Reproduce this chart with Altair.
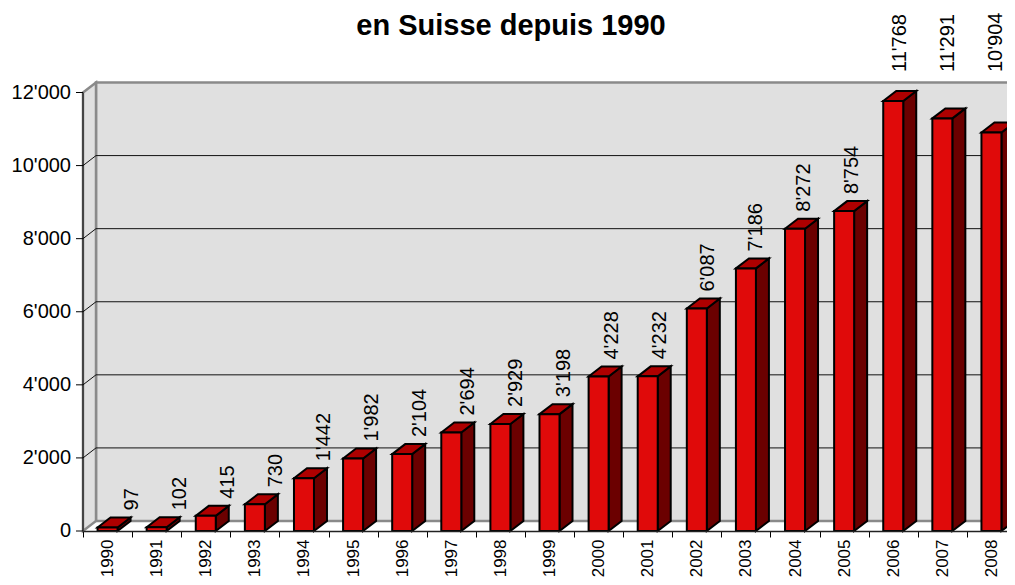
import altair as alt
import pandas as pd

# ---------------- data ----------------
years = ["1990", "1991", "1992", "1993", "1994", "1995", "1996", "1997", "1998", "1999",
         "2000", "2001", "2002", "2003", "2004", "2005", "2006", "2007", "2008"]
values = [97, 102, 415, 730, 1442, 1982, 2104, 2694, 2929, 3198,
          4228, 4232, 6087, 7186, 8272, 8754, 11768, 11291, 10904]
y_ticks = [0, 2000, 4000, 6000, 8000, 10000, 12000]
grid_vals = [2000, 4000, 6000, 8000, 10000]
title_text = "en Suisse depuis 1990"

# ---------------- geometry / style ----------------
FONT = "Liberation Sans"
N = len(years)
PLOT_W = 933.0            # full category span in px
VIS_W = 924               # visible plot width
PLOT_H = 438.5
Y_MAX = 12000
BW = PLOT_W / N
PXY = PLOT_H / Y_MAX
DX = 13 / BW              # 3D depth, x (category units)
DY = 10 / PXY             # 3D depth, y (value units)
HALF = 10 / BW            # half width of bar front

FRONT = "#E00A0A"
TOP = "#AE0000"
SIDE = "#6B0000"
WALL = "#E0E0E0"
EDGE = "#8A8A8A"
APOS = "replace(format(datum.{f}, ','), ',', \"'\")"

xs = alt.Scale(domain=[0, N], range=[0, PLOT_W], nice=False, zero=False)
ys = alt.Scale(domain=[0, Y_MAX], nice=False)

base = pd.DataFrame({"year": years, "v": values, "i": list(range(N))})
base["c"] = base["i"] + 0.5

# faces
front_df = pd.DataFrame({"x1": base["c"] - HALF, "x2": base["c"] + HALF,
                         "y1": 0, "y2": base["v"]})
side_rows, top_rows = [], []
for _, r in base.iterrows():
    c, v, k = r["c"], r["v"], r["year"]
    side_rows += [dict(k=k, x=c + HALF, top=v, bot=0),
                  dict(k=k, x=c + HALF + DX, top=v + DY, bot=DY)]
    top_rows += [dict(k=k, x=c - HALF, top=v, bot=v),
                 dict(k=k, x=c - HALF + DX, top=v + DY, bot=v),
                 dict(k=k, x=c + HALF, top=v + DY, bot=v),
                 dict(k=k, x=c + HALF + DX, top=v + DY, bot=v + DY)]
side_df = pd.DataFrame(side_rows)
top_df = pd.DataFrame(top_rows)

wall_df = pd.DataFrame({"x1": [DX], "x2": [N + DX], "y1": [DY], "y2": [Y_MAX + DY]})
left_df = pd.DataFrame({"x": [0, DX], "top": [Y_MAX, Y_MAX + DY], "bot": [0, DY]})
grid_df = pd.DataFrame({"g": grid_vals})
grid_df["gb"] = grid_df["g"] + DY
grid_df["x0"] = 0.0
grid_df["xd"] = DX
grid_df["xe"] = N + DX
tick_df = pd.DataFrame({"t": y_ticks})
dom_df = pd.DataFrame({"lo": [y_ticks[0]], "hi": [y_ticks[-1]]})

# band layer: carries the category axis
band = alt.Chart(base).mark_bar(opacity=0).encode(
    x=alt.X("year:N", scale=alt.Scale(domain=years, range=[0, PLOT_W], paddingInner=0, paddingOuter=0),
            axis=alt.Axis(orient="bottom", labelAngle=270, labelAlign="right", labelBaseline="middle",
                          labelFontSize=17, labelFont=FONT, labelColor="black", tickBand="extent",
                          tickSize=6, tickColor="black", domainColor="#222222", domainWidth=1.5,
                          labelPadding=2, title=None, zindex=1, grid=False)),
    y=alt.Y("v:Q", scale=ys, axis=None),
)

back_wall = alt.Chart(wall_df).mark_rect(fill=WALL, stroke=EDGE, strokeWidth=2.5).encode(
    x=alt.X("x1:Q", scale=xs, axis=None), x2="x2:Q",
    y=alt.Y("y1:Q", scale=ys, axis=None), y2="y2:Q")

left_wall = alt.Chart(left_df).mark_area(fill=WALL, stroke=EDGE, strokeWidth=2.5, orient="vertical").encode(
    x=alt.X("x:Q", scale=xs, axis=None),
    y=alt.Y("top:Q", scale=ys, axis=None), y2="bot:Q")

grid_back = alt.Chart(grid_df).mark_rule(color="#111111", strokeWidth=1).encode(
    x=alt.X("xd:Q", scale=xs, axis=None), x2="xe:Q",
    y=alt.Y("gb:Q", scale=ys, axis=None))

grid_left = alt.Chart(grid_df).mark_rule(color="#111111", strokeWidth=1).encode(
    x=alt.X("x0:Q", scale=xs, axis=None), x2="xd:Q",
    y=alt.Y("g:Q", scale=ys, axis=None), y2="gb:Q")

# value axis (drawn from the tick list through the y scale)
y_domain = alt.Chart(dom_df).mark_rule(color="black", strokeWidth=1).encode(
    x=alt.value(0), y=alt.Y("lo:Q", scale=ys, axis=None), y2="hi:Q")
y_tickmarks = alt.Chart(tick_df).mark_rule(color="black", strokeWidth=1).encode(
    x=alt.value(-7), x2=alt.value(0), y=alt.Y("t:Q", scale=ys, axis=None))
y_labels = alt.Chart(tick_df).transform_calculate(lab=APOS.format(f="t")).mark_text(
    align="right", baseline="middle", fontSize=20, font=FONT, color="black").encode(
    x=alt.value(-12), y=alt.Y("t:Q", scale=ys, axis=None), text="lab:N")

sides = alt.Chart(side_df).mark_area(fill=SIDE, stroke="black", strokeWidth=2, orient="vertical").encode(
    x=alt.X("x:Q", scale=xs, axis=None),
    y=alt.Y("top:Q", scale=ys, axis=None), y2="bot:Q", detail="k:N")

tops = alt.Chart(top_df).mark_area(fill=TOP, stroke="black", strokeWidth=2, orient="vertical").encode(
    x=alt.X("x:Q", scale=xs, axis=None),
    y=alt.Y("top:Q", scale=ys, axis=None), y2="bot:Q", detail="k:N")

fronts = alt.Chart(front_df).mark_rect(fill=FRONT, stroke="black", strokeWidth=2).encode(
    x=alt.X("x1:Q", scale=xs, axis=None), x2="x2:Q",
    y=alt.Y("y1:Q", scale=ys, axis=None), y2="y2:Q")

labels = alt.Chart(base).transform_calculate(
    lab=APOS.format(f="v"),
    lx=f"datum.i + 0.5 + (24 - 1.07 * datum.i) / {BW}",
    ly=f"datum.v > 10000 ? 12561 : datum.v + {17 / PXY}",
).mark_text(angle=270, align="left", baseline="middle", fontSize=20, font=FONT, color="black").encode(
    x=alt.X("lx:Q", scale=xs, axis=None),
    y=alt.Y("ly:Q", scale=ys, axis=None),
    text="lab:N")

title = alt.Chart(pd.DataFrame({"t": [title_text]})).mark_text(
    fontSize=29, fontWeight="bold", font=FONT, align="center", baseline="alphabetic", color="black"
).encode(x=alt.value(428), y=alt.value(-57.5), text="t:N")

inner = alt.layer(back_wall, left_wall, grid_back, grid_left, y_domain, y_tickmarks, y_labels,
                  sides, tops, fronts, labels, title)

chart = alt.layer(band, inner).resolve_scale(x="independent").properties(
    width=VIS_W, height=PLOT_H,
    autosize=alt.AutoSizeParams(type="none"),
    padding={"left": 75, "top": 84.5, "right": 0, "bottom": 46},
    background="white",
).configure_view(stroke=None).configure(font=FONT)

chart.save("out.html", embed_options={"renderer": "svg", "actions": False})
